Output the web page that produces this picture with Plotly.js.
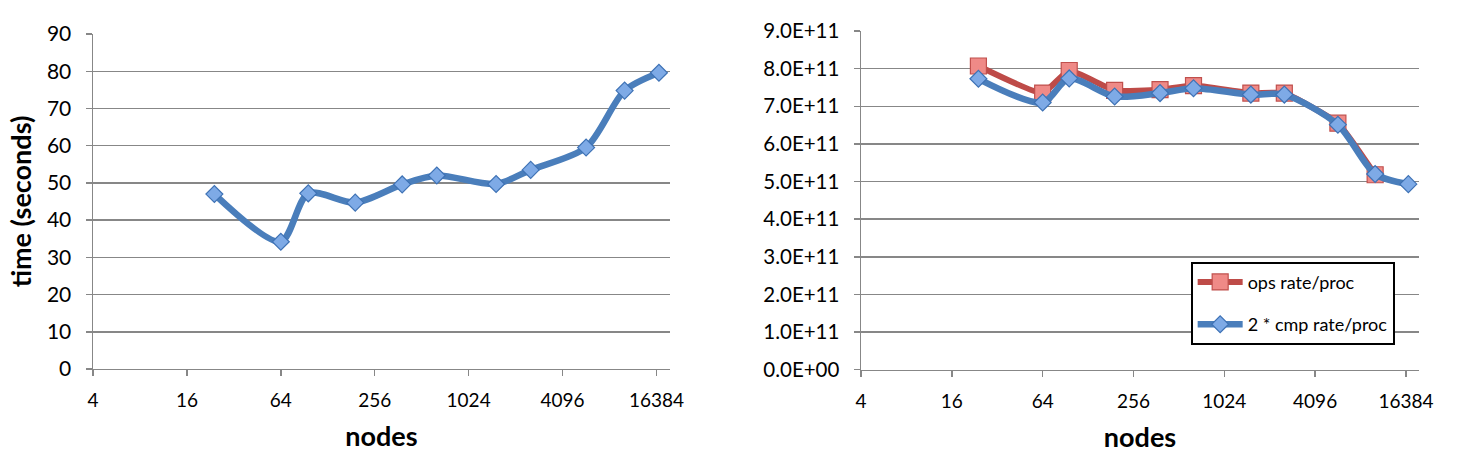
<!DOCTYPE html>
<html>
<head>
<meta charset="utf-8">
<script src="https://cdn.plot.ly/plotly-3.0.1.min.js"></script>
<style>html,body{margin:0;padding:0;background:#fff;}#chart{width:1462px;height:458px;}</style>
</head>
<body>
<div id="chart"></div>
<script>
// Data
const nodes = [24, 64, 96, 192, 384, 640, 1536, 2560, 5800, 10240, 17000];
const timeSeconds = [47.0, 34.2, 47.2, 44.7, 49.6, 52.0, 49.7, 53.5, 59.5, 74.8, 79.6];
const opsNodes = [24, 64, 96, 192, 384, 640, 1536, 2560, 5800, 10240];
const opsRate = [8.07e11, 7.35e11, 7.95e11, 7.42e11, 7.44e11, 7.55e11, 7.35e11, 7.35e11, 6.55e11, 5.18e11];
const cmpRate = [7.73e11, 7.10e11, 7.74e11, 7.26e11, 7.35e11, 7.48e11, 7.31e11, 7.31e11, 6.51e11, 5.20e11, 4.93e11];
const xTickVals = [4, 16, 64, 256, 1024, 4096, 16384];
const xTickText = ['4', '16', '64', '256', '1024', '4096', '16384'];
const yLeftTicks = [0, 10, 20, 30, 40, 50, 60, 70, 80, 90];
const yRightTicks = [0, 1e11, 2e11, 3e11, 4e11, 5e11, 6e11, 7e11, 8e11, 9e11];
const yRightText = ['0.0E+00', '1.0E+11', '2.0E+11', '3.0E+11', '4.0E+11', '5.0E+11', '6.0E+11', '7.0E+11', '8.0E+11', '9.0E+11'];

const FONT = 'Lato, "Open Sans", sans-serif';
const GRID = '#878787';
const BLUE = '#4a7ebb';
const RED = '#be4b48';

const blueMarker = {symbol: 'diamond', size: 13, color: '#7eaae6', line: {color: '#3e72b5', width: 1.2}};
const redMarker = {symbol: 'square', size: 16, color: '#ef8a87', line: {color: '#c0504d', width: 1.2}};

const traces = [
  {x: nodes, y: timeSeconds, xaxis: 'x', yaxis: 'y', mode: 'lines+markers', type: 'scatter',
   line: {color: BLUE, width: 6.5, shape: 'spline', smoothing: 0.8}, marker: blueMarker, showlegend: false},
  {x: opsNodes, y: opsRate, xaxis: 'x2', yaxis: 'y2', mode: 'lines+markers', type: 'scatter', name: 'ops rate/proc',
   legendgroup: 'a', line: {color: RED, width: 6, shape: 'spline', smoothing: 0.4}, marker: redMarker},
  {x: nodes, y: cmpRate, xaxis: 'x2', yaxis: 'y2', mode: 'lines+markers', type: 'scatter', name: '2 * cmp rate/proc',
   legendgroup: 'b', line: {color: BLUE, width: 6.5, shape: 'spline', smoothing: 0.8}, marker: blueMarker}
];

function xAxis(domain, anchor) {
  return {
    type: 'log', domain: domain, anchor: anchor,
    range: [Math.log10(4), Math.log10(20000)],
    tickmode: 'array', tickvals: xTickVals, ticktext: xTickText,
    showgrid: false, zeroline: false, showline: true, linecolor: GRID, linewidth: 1.5,
    ticks: 'outside', ticklen: 6, tickcolor: GRID, tickwidth: 1.5,
    tickfont: {family: FONT, size: 19, color: '#000'},
    ticklabelstandoff: 8,
    automargin: false,
    title: {text: '<b>nodes</b>', font: {family: FONT, size: 27, color: '#000'}, standoff: 17}
  };
}

function yAxisBase(domain, anchor, range, vals) {
  return {
    domain: domain, anchor: anchor, range: range,
    tickmode: 'array', tickvals: vals,
    showgrid: true, gridcolor: GRID, gridwidth: 1.5, zeroline: false,
    showline: true, linecolor: GRID, linewidth: 1.5,
    ticks: 'outside', ticklen: 6, tickcolor: GRID, tickwidth: 1.5,
    tickfont: {family: FONT, size: 21, color: '#000'}, ticklabelstandoff: 10,
    automargin: false
  };
}

const yLeft = yAxisBase([0.003, 0.991], 'x', [0, 90], yLeftTicks);
yLeft.title = {text: '<b>time (seconds)</b>', font: {family: FONT, size: 27, color: '#000'}, standoff: 7};
const yRight = yAxisBase([0.001, 1.0], 'x2', [0, 9e11], yRightTicks);
yRight.ticktext = yRightText;
yRight.tickfont = {family: FONT, size: 20.5, color: '#000'};

const layout = {
  width: 1462, height: 458,
  margin: {l: 93, r: 43, t: 31, b: 88},
  paper_bgcolor: '#fff', plot_bgcolor: '#fff',
  font: {family: FONT, color: '#000'},
  xaxis: xAxis([0, 0.4351], 'y'),
  xaxis2: xAxis([0.5792, 1.0], 'y2'),
  yaxis: yLeft,
  yaxis2: yRight,
  showlegend: true,
  legend: {
    x: 0.8278, y: 0.3195, xanchor: 'left', yanchor: 'top',
    bgcolor: '#fff', bordercolor: '#000', borderwidth: 2,
    font: {family: FONT, size: 18, color: '#000'},
    traceorder: 'grouped', tracegroupgap: 16, itemwidth: 45
  }
};

Plotly.newPlot('chart', traces, layout, {staticPlot: true, displayModeBar: false});
</script>
</body>
</html>
